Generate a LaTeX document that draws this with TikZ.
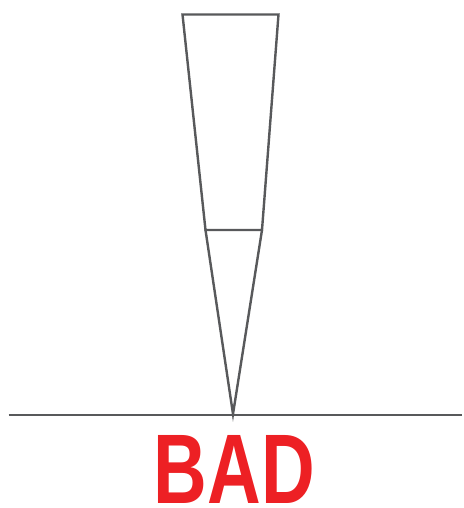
\documentclass[tikz,border=0pt]{standalone}
\usepackage{fontspec}
\setmainfont{Liberation Sans}
\definecolor{strokegray}{RGB}{88,89,91}
\definecolor{badred}{RGB}{237,32,36}
\begin{document}
\begin{tikzpicture}[x=1pt,y=-1pt,
  outline/.style={draw=strokegray,line width=2.4pt,line join=miter},
  label/.style={inner sep=0pt,text=badred,font=\bfseries}]
\useasboundingbox (0,0) rectangle (463,508);
\coordinate (tl) at (182.5,14.5);
\coordinate (tr) at (278.5,14.5);
\coordinate (ml) at (205.5,230);
\coordinate (mr) at (262,230);
\coordinate (tip) at (233,414);
\coordinate (gl) at (8.5,415);
\coordinate (gr) at (462,415);
\draw[outline] (ml) -- (tl) -- (tr) -- (mr) -- cycle;
\draw[outline] (ml) -- (tip) -- (mr);
\draw[outline] (gl) -- (gr);
\node[label] (bad) at (234.5,469) {\resizebox{161pt}{68pt}{BAD}};
\end{tikzpicture}
\end{document}
